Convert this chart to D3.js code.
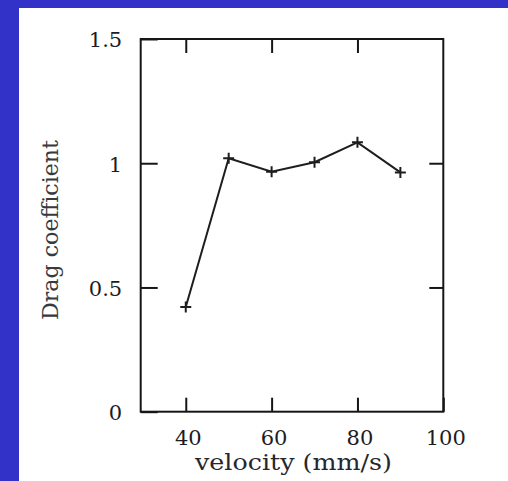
<!DOCTYPE html>
<html>
<head>
<meta charset="utf-8">
<script src="https://cdn.jsdelivr.net/npm/d3@7"></script>
<style>
  body { margin: 0; background: #3232c8; }
  svg { display: block; }
</style>
</head>
<body>
<svg id="chart" width="508" height="481"></svg>
<script>
// Measured drag coefficient at each towing velocity
const velocity = [40, 50, 60, 70, 80, 90];
const dragCoeff = [0.421, 1.020, 0.966, 1.004, 1.084, 0.963];

// Axis ticks and labels
const xTicks = [40, 60, 80, 100];
const xTickLabels = ["40", "60", "80", "100"];
const yTicks = [0, 0.5, 1, 1.5];
const yTickLabels = ["0", "0.5", "1", "1.5"];
const xTitle = "velocity (mm/s)";
const yTitle = "Drag coefficient";

const svg = d3.select("#chart");
const W = 508, H = 481;

// blue surround and white page
svg.append("rect").attr("width", W).attr("height", H).attr("fill", "#3232c8");
svg.append("rect").attr("x", 19).attr("y", 8).attr("width", W - 19).attr("height", H - 8).attr("fill", "#ffffff");

const x = d3.scaleLinear().domain([29.5, 100]).range([140.7, 443.3]);
const y = d3.scaleLinear().domain([0, 1.5]).range([411.7, 39]);

const ink = "#161616";
const tickFont = "'DejaVu Serif', serif";

function styleTicks(g) {
  g.select(".domain").remove();
  g.selectAll(".tick line").attr("stroke", ink).attr("stroke-width", 2);
}

// bottom axis with labels
const gx = svg.append("g")
  .attr("transform", `translate(0,${y(0)})`)
  .call(d3.axisBottom(x).tickValues(xTicks)
    .tickFormat((d, i) => xTickLabels[i])
    .tickSize(-14).tickSizeOuter(0));
styleTicks(gx);
gx.selectAll(".tick text")
  .attr("y", 33).attr("dy", 0).attr("dx", 2)
  .attr("fill", "#1c1c22")
  .style("font-family", tickFont).style("font-size", "21px");

// top mirror ticks
const gxt = svg.append("g")
  .attr("transform", `translate(0,${y(1.5)})`)
  .call(d3.axisTop(x).tickValues(xTicks.filter(v => v < 100))
    .tickFormat("").tickSize(-14).tickSizeOuter(0));
styleTicks(gxt);

// left axis with labels
const gy = svg.append("g")
  .attr("transform", `translate(${x(29.5)},0)`)
  .call(d3.axisLeft(y).tickValues(yTicks)
    .tickFormat((d, i) => yTickLabels[i])
    .tickSize(-17).tickSizeOuter(0));
styleTicks(gy);
gy.selectAll(".tick text")
  .attr("x", -18.5).attr("dy", "0.38em")
  .attr("fill", "#1c1c22")
  .style("font-family", tickFont).style("font-size", "21px");

// right mirror ticks
const gyr = svg.append("g")
  .attr("transform", `translate(${x(100)},0)`)
  .call(d3.axisRight(y).tickValues(yTicks.filter(v => v > 0 && v < 1.5))
    .tickFormat("").tickSize(-14).tickSizeOuter(0));
styleTicks(gyr);

// plot frame
svg.append("rect")
  .attr("x", x(29.5)).attr("y", y(1.5))
  .attr("width", x(100) - x(29.5)).attr("height", y(0) - y(1.5))
  .attr("fill", "none").attr("stroke", ink).attr("stroke-width", 2);

// axis titles
svg.append("text")
  .attr("x", (x(29.5) + x(100)) / 2 + 1.5).attr("y", 470)
  .attr("text-anchor", "middle")
  .attr("textLength", 197).attr("lengthAdjust", "spacingAndGlyphs")
  .attr("fill", "#26262c")
  .style("font-family", tickFont).style("font-size", "23px")
  .text(xTitle);

svg.append("text")
  .attr("transform", `translate(58,230) rotate(-90)`)
  .attr("text-anchor", "middle")
  .attr("textLength", 180).attr("lengthAdjust", "spacingAndGlyphs")
  .attr("fill", "#3a3a3e")
  .style("font-family", tickFont).style("font-size", "23px")
  .text(yTitle);

// data line
const pts = velocity.map((v, i) => [v, dragCoeff[i]]);
svg.append("path")
  .datum(pts)
  .attr("fill", "none").attr("stroke", "#1e1e1e").attr("stroke-width", 2)
  .attr("d", d3.line().x(d => x(d[0])).y(d => y(d[1])));

// '+' point markers
const r = 5.5;
svg.append("g").selectAll("path")
  .data(pts).join("path")
  .attr("fill", "none").attr("stroke", "#1e1e1e").attr("stroke-width", 2)
  .attr("d", d => {
    const px = x(d[0]), py = y(d[1]);
    return `M${px - r},${py}h${2 * r}M${px},${py - r}v${2 * r}`;
  });
</script>
</body>
</html>
